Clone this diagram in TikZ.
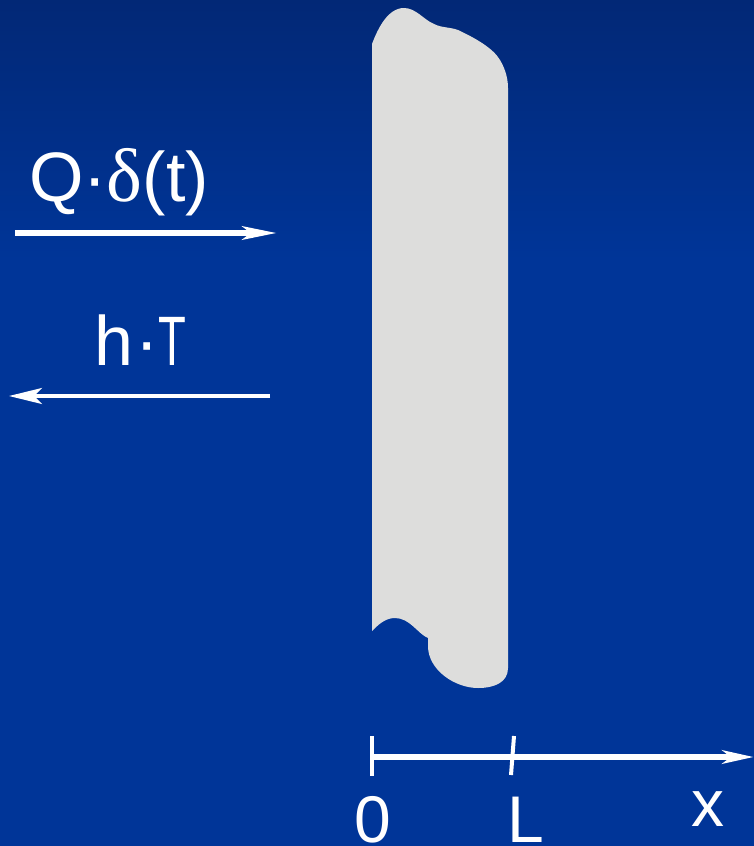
\documentclass[tikz,border=0pt]{standalone}
\usepackage{fontspec}
\usepackage{graphicx}
\setmainfont{Liberation Sans}
\newfontfamily\greekserif{Liberation Serif}
\usetikzlibrary{arrows.meta}
\definecolor{bgtop}{RGB}{2,40,118}
\definecolor{bgbot}{RGB}{0,53,152}
\definecolor{slabgray}{RGB}{221,221,220}
\tikzset{
  lbl/.style={text=white, font=\fontsize{66}{70}\selectfont, inner sep=0pt, anchor=base west},
  biglbl/.style={lbl, font=\fontsize{70}{74}\selectfont},
  flux/.style={draw=white, line width=6pt, -{Stealth[length=34pt,width=13pt,inset=8pt]}},
  fluxthin/.style={draw=white, line width=3.5pt, -{Stealth[length=33pt,width=16pt,inset=8pt]}},
  axisline/.style={draw=white, line width=6pt, -{Stealth[length=31pt,width=13pt,inset=8pt]}},
  tickline/.style={draw=white, line width=4pt},
}
\begin{document}
\begin{tikzpicture}[x=1pt,y=-1pt]
\useasboundingbox (0,0) rectangle (754,846);
\fill[bgbot] (0,0) rectangle (754,846);
\shade[top color=bgtop, bottom color=bgbot] (0,0) rectangle (754,260);
% slab
\fill[slabgray] (372,631) -- (372,44)
  .. controls (378,28) and (388,8) .. (404,8)
  .. controls (416,8) and (424,20) .. (434,24)
  .. controls (442,28) and (450,27) .. (458,30)
  .. controls (475,38) and (493,48) .. (500,60)
  .. controls (506,70) and (508,80) .. (508,88)
  -- (508,668)
  .. controls (508,682) and (495,688) .. (478,688)
  .. controls (455,688) and (428,670) .. (428,646)
  -- (428,638)
  .. controls (418,634) and (410,618) .. (395,618)
  .. controls (385,618) and (378,625) .. (372,631) -- cycle;
% flux arrows
\node[biglbl] (qlabel) at (29,201) {Q·{\greekserif\fontsize{76}{78}\selectfont δ}(t)};
\coordinate (qstart) at (15,233);
\coordinate (qend) at (277,233);
\draw[flux] (qstart) -- (qend);
\node[biglbl] (hlabel) at (94,365) {h\kern2pt·\scalebox{0.65}[1]{T}};
\coordinate (hstart) at (270,396);
\coordinate (hend) at (9,396);
\draw[fluxthin] (hstart) -- (hend);
% axis
\coordinate (ax0) at (372,757);
\coordinate (axend) at (754,757);
\draw[axisline] (ax0) -- (axend);
\coordinate (t0a) at (372,736);
\coordinate (t0b) at (372,776);
\draw[tickline] (t0a) -- (t0b);
\coordinate (tLa) at (514,736);
\coordinate (tLb) at (511,775);
\draw[tickline] (tLa) -- (tLb);
\node[lbl, anchor=base] (zero) at (373,842) {0};
\node[lbl, anchor=base west] (ell) at (507,842) {L};
\node[lbl, anchor=base west] (xlab) at (691,826) {x};
\end{tikzpicture}
\end{document}
